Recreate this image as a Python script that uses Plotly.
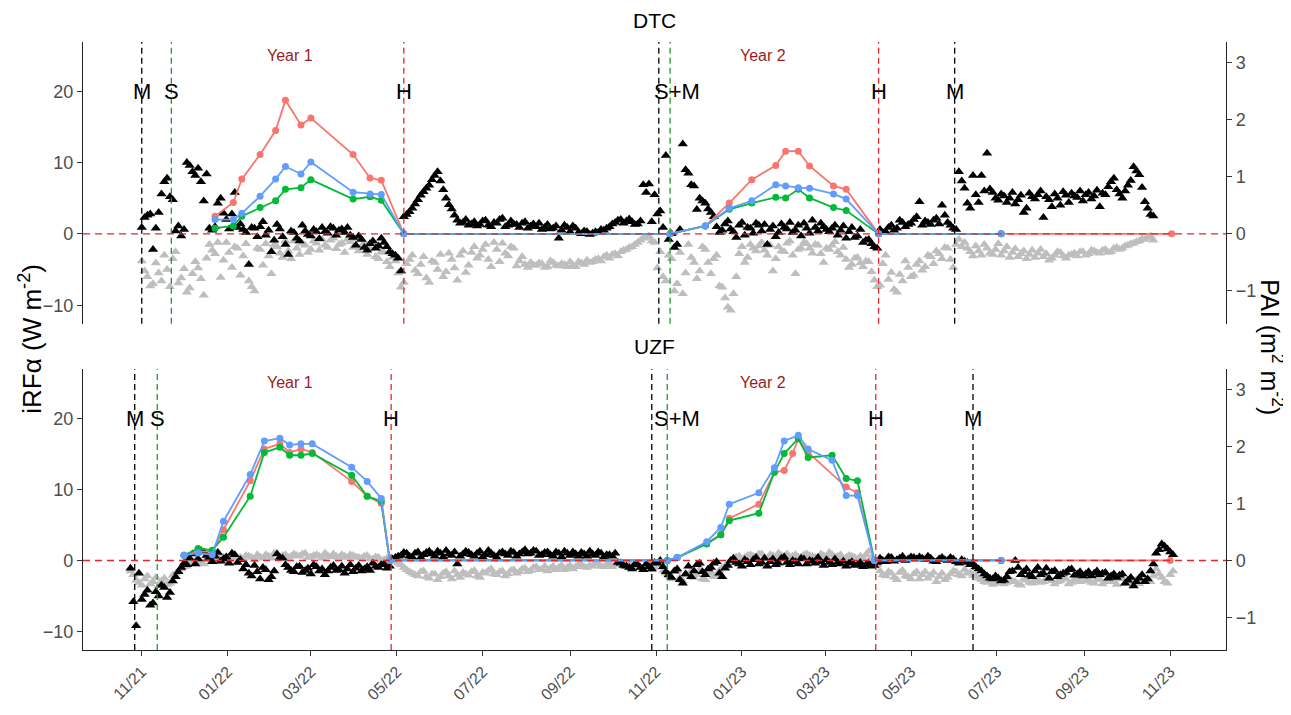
import pandas as pd
import plotly.graph_objects as go

STEP = pd.Timedelta(days=4)

# ---------------- DTC daily iRF (W m-2): two interleaved samplings (every 4 days) ----------------
dtc_black_start = "2021-11-01"
dtc_black = [
    0.9, 2.6, -2.2, 3.0, 7.3, 5.2, 0.4, -0.3, 10.0, 8.7,
    9.2, 4.6, 0.8, 1.0, 5.0, 2.0, 2.8, 0.9, 0.6, -4.3,
    0.8, 1.0, -0.2, -2.5, 1.3, -0.4, -2.9, 0.2, -1.0, 0.4,
    -0.3, 0.3, 0.9, 0.1, 0.8, 0.5, 0.2, -0.2, -1.6, -0.8,
    -2.3, -1.0, -1.7, -1.2, -2.5, -3.0, -5.2, 2.7, 3.6, 4.8,
    5.9, 6.8, 8.2, 7.4, 5.0, 3.5, 1.9, 1.6, 1.2, 1.7,
    1.3, 1.9, 1.0, 1.5, 2.2, 1.2, 1.4, 0.9, 1.7, 1.1,
    1.0, 0.6, 1.3, 0.8, -0.6, 1.2, 0.3, 0.8, 0.0, 0.3,
    0.1, 0.2, 0.5, 1.0, 1.6, 2.0, 1.8, 1.7, 1.4, 6.9,
    7.0, 5.5, 3.2, 11.0, 0.0, -1.5, 12.6, 8.5, 6.7, 5.0,
    4.3, 3.0, 1.0, 0.5, 1.8, 0.3, 1.2, -0.2, 0.8, 1.5,
    0.4, -1.5, 1.1, 0.2, 0.9, 1.6, 0.5, -0.3, 0.8, 1.9,
    0.4, 1.0, 0.3, 1.2, 0.5, -0.6, 0.9, -0.3, -1.2, -0.8,
    -1.8, 0.6, 0.3, 1.2, 0.8, 1.6, 1.3, 2.0, 4.5, 1.8,
    1.3, 2.2, 4.0, 1.6, 0.8, 8.7, 6.4, 3.6, 5.5, 8.2,
    11.3, 5.8, 4.7, 5.3, 5.0, 4.2, 5.4, 3.6, 5.2, 5.5,
    2.3, 4.8, 5.6, 4.0, 5.4, 5.7, 5.1, 4.6, 5.8, 5.3,
    3.8, 5.5, 7.3, 6.2, 5.0, 6.8, 9.4, 8.3, 4.5, 2.7,
]
dtc_black_b_start = "2021-11-03"
dtc_black_b = [
    2.3, 2.8, 0.8, 5.6, 7.8, 4.8, 1.1, 0.6, 9.6, 8.2,
    7.3, 8.4, 0.5, 4.3, 2.9, 0.7, 5.8, 1.4, 0.2, 0.9,
    -0.4, 1.7, 0.5, -0.9, 0.7, -1.5, 0.4, -0.6, 1.2, -0.1,
    0.6, -0.7, 0.3, 1.0, -0.2, 0.7, 0.9, -0.5, -0.3, -1.9,
    -1.4, -2.0, -0.6, -1.8, -2.8, -3.4, 2.4, 3.1, 4.2, 5.4,
    6.4, 7.6, 8.7, 6.2, 4.1, 2.6, 1.5, 2.0, 1.4, 1.1,
    1.8, 1.2, 1.6, 2.0, 1.0, 1.8, 1.3, 1.5, 0.8, 1.4,
    1.5, 0.9, 0.7, 1.1, 0.5, 0.9, 1.1, 0.2, 0.4, -0.1,
    0.3, 0.6, 0.8, 1.4, 1.9, 1.5, 2.1, 1.3, 1.8, 5.8,
    1.7, 2.8, 0.9, -0.8, -1.9, 0.6, 9.0, 6.9, 3.4, 4.6,
    3.5, 2.4, 0.2, 1.4, 0.7, -0.5, 1.6, 0.9, 0.1, 1.2,
    1.3, 0.6, -0.4, 1.4, 0.7, 0.2, 1.2, 1.5, 0.1, 0.9,
    1.5, 0.6, 0.8, -0.2, 1.1, 0.3, -0.5, 0.6, -0.9, -1.4,
    -2.0, 0.2, 0.9, 0.5, 1.9, 1.0, 1.5, 2.4, 1.2, 1.6,
    1.9, 1.4, 2.6, 1.2, 0.6, 7.4, 4.3, 8.2, 4.4, 6.0,
    6.3, 5.0, 5.6, 4.4, 5.8, 4.8, 3.0, 5.7, 4.9, 6.0,
    5.2, 3.8, 5.0, 5.9, 4.4, 5.3, 6.0, 5.5, 4.9, 6.1,
    5.7, 6.6, 7.8, 5.6, 6.0, 7.5, 8.8, 6.5, 3.6, 2.5,
]
dtc_gray_start = "2021-11-01"
dtc_gray = [
    -3.8, -6.0, -7.0, -5.5, -3.0, -7.4, -2.5, -6.2, -8.2, -5.6,
    -4.8, -8.6, -1.5, -2.8, -6.1, -1.2, -4.7, -2.0, -3.1, -6.6,
    -8.0, -2.2, -1.4, -5.6, -1.8, -3.3, -2.4, -1.0, -2.9, -1.6,
    -2.2, -1.3, -0.8, -1.9, -0.6, -1.5, -2.6, -1.1, -0.7, -1.8,
    -2.9, -1.4, -3.5, -2.6, -4.6, -3.8, -7.5, -4.2, -3.0, -5.6,
    -3.2, -6.8, -4.0, -2.9, -5.3, -3.6, -6.5, -2.4, -4.4, -1.8,
    -3.0, -1.5, -4.6, -2.2, -1.3, -3.1, -2.0, -3.8, -4.3, -4.0,
    -4.4, -4.2, -4.6, -4.0, -4.5, -4.3, -3.9, -4.6, -4.1, -3.7,
    -3.9, -3.5, -3.2, -3.4, -2.8, -2.5, -2.2, -1.8, -1.2, -0.6,
    -0.3, -1.2, -2.5, -6.6, -3.5, -7.0, -8.4, -1.5, -4.0, -5.2,
    -2.2, -5.6, -3.0, -7.5, -10.3, -8.4, -2.8, -4.0, -1.5, -2.4,
    -1.2, -3.0, -5.2, -1.8, -2.5, -1.0, -5.6, -2.0, -1.4, -2.7,
    -1.6, -4.0, -2.2, -1.1, -3.0, -3.6, -4.3, -3.3, -4.6, -3.9,
    -6.5, -7.2, -3.0, -5.4, -8.2, -6.6, -4.7, -5.8, -3.8, -4.6,
    -3.2, -2.4, -3.5, -2.0, -4.7, -0.8, -1.2, -2.5, -1.7, -3.0,
    -2.0, -2.9, -1.4, -2.4, -3.3, -2.1, -2.8, -3.5, -2.3, -2.7,
    -3.2, -3.7, -3.0, -2.6, -3.4, -2.9, -3.1, -2.5, -2.8, -2.4,
    -2.7, -2.2, -2.5, -1.9, -2.0, -1.6, -1.3, -1.0, -0.8, -0.3,
]
dtc_gray_b_start = "2021-11-03"
dtc_gray_b = [
    -5.2, -7.3, -4.1, -6.6, -5.0, -3.5, -6.9, -4.9, -7.6, -3.9,
    -6.3, -3.4, -2.3, -1.2, -3.7, -2.6, -1.8, -5.8, -1.4, -7.4,
    -2.0, -4.4, -3.1, -1.6, -2.7, -1.0, -3.5, -2.0, -1.3, -2.6,
    -1.0, -2.3, -1.6, -0.9, -2.1, -1.3, -0.8, -1.9, -2.4, -1.2,
    -2.0, -3.2, -2.5, -3.9, -3.3, -5.5, -6.8, -3.6, -5.1, -4.3,
    -6.2, -3.8, -5.0, -6.0, -2.7, -4.8, -3.0, -5.4, -2.6, -3.4,
    -2.2, -3.6, -1.2, -3.9, -2.7, -1.8, -4.5, -3.2, -4.7, -4.4,
    -4.1, -4.7, -3.8, -4.4, -4.2, -4.6, -4.4, -3.9, -4.3, -4.0,
    -3.6, -3.8, -3.0, -2.9, -3.1, -2.3, -1.9, -1.5, -0.9, -0.5,
    -1.0, -4.8, -6.0, -3.0, -8.0, -2.6, -5.5, -3.3, -6.3, -1.8,
    -4.0, -3.5, -7.3, -9.0, -10.7, -6.0, -1.8, -3.3, -2.0, -1.7,
    -2.3, -1.6, -3.5, -2.4, -1.3, -3.0, -2.2, -1.2, -2.0, -1.5,
    -2.8, -2.0, -1.6, -2.5, -1.9, -4.7, -3.4, -4.1, -3.8, -5.3,
    -7.4, -4.2, -6.4, -7.8, -5.7, -3.8, -6.0, -4.3, -5.1, -3.0,
    -4.2, -2.8, -1.9, -3.6, -1.5, -1.8, -2.0, -3.1, -2.4, -1.5,
    -2.7, -2.2, -3.0, -1.8, -2.6, -3.2, -2.4, -2.9, -3.3, -2.2,
    -2.8, -3.4, -2.5, -3.1, -3.0, -2.7, -2.5, -3.0, -2.3, -2.6,
    -2.3, -2.6, -2.0, -2.2, -1.7, -1.4, -1.1, -0.7, -0.5, -0.9,
]

# ---------------- UZF daily iRF (W m-2): two interleaved samplings (every 4 days) ----------------
uzf_black_start = "2021-10-24"
uzf_black = [
    -1.1, -9.2, -5.5, -4.2, -6.0, -5.0, -3.8, -4.5, -2.3, -1.0,
    -0.6, 0.9, 0.2, 1.2, 0.4, 0.6, -0.1, 0.5, 1.0, -0.3,
    -1.2, -1.8, -0.7, -2.6, -1.3, -2.3, 0.9, 0.3, -1.0, -1.6,
    -0.8, -1.4, -1.9, -0.9, -1.2, -1.5, -0.7, -1.3, -1.8, -0.6,
    -1.1, -1.5, -0.9, -0.4, -1.0, -0.5, -0.8, 0.4, 0.7, 1.0,
    0.5, 1.2, 0.8, 1.3, 0.6, 1.0, 1.4, 0.7, -0.5, 0.9,
    1.1, 0.6, 1.3, 0.8, 1.0, 0.4, 1.2, 0.7, 1.1, 0.9,
    1.5, 1.0, 1.3, 0.8, 1.2, 0.6, 1.0, 1.3, 0.7, 0.9,
    1.1, 0.6, 0.9, 1.2, 0.5, 0.8, 1.0, -0.4, -0.8, -1.2,
    -0.6, -1.3, -0.9, -0.3, 0.0, -1.6, -2.4, -1.2, -3.2, -0.8,
    -1.5, -0.4, -2.0, -1.0, -0.2, -2.3, -0.7, 0.3, -0.5, 0.1,
    -0.6, 0.4, -0.3, -0.8, 0.2, -0.4, 0.5, -0.6, -0.2, 0.3,
    -0.5, -0.1, 0.4, -0.7, -0.3, 0.2, -0.5, -0.8, -0.2, -0.6,
    -0.9, -0.4, -0.7, 0.3, -0.2, 0.4, 0.1, 0.6, 0.2, 0.4,
    0.5, 0.1, 0.3, -0.2, 0.4, 0.0, 0.2, -0.4, -0.1, -0.6,
    -0.9, -1.5, -2.2, -2.6, -2.5, -2.8, -1.6, 0.0, -2.0, -1.2,
    -2.3, -1.0, -1.8, -2.5, -1.4, -2.0, -1.7, -1.2, -1.9, -2.2,
    -1.6, -1.8, -2.0, -1.7, -2.2, -2.4, -1.9, -2.8, -3.6, -2.5,
    -3.0, -1.5, 1.0, 2.3, 1.6, 0.8,
]
uzf_black_b_start = "2021-10-26"
uzf_black_b = [
    -5.8, -1.8, -4.8, -6.3, -4.4, -3.5, -5.2, -2.9, -1.6, -0.4,
    0.3, -0.5, 1.4, 0.7, -0.2, 1.1, 0.2, -0.4, 0.8, 0.1,
    -0.6, -2.2, -1.6, -1.0, -2.7, -1.5, 0.4, -0.6, -1.4, -0.9,
    -1.7, -1.1, -0.6, -1.5, -2.0, -1.0, -1.4, -0.8, -1.2, -1.6,
    -0.7, -1.2, -1.4, -0.8, -0.6, -1.1, 0.2, 0.6, 1.1, 0.6,
    1.0, 0.4, 1.1, 0.9, 1.3, 0.5, 0.9, 1.2, 0.6, 1.3,
    0.8, 1.0, 0.5, 1.4, 0.7, 1.0, 0.9, 1.3, 0.6, 1.2,
    0.9, 1.4, 0.7, 1.1, 0.8, 1.2, 0.5, 1.0, 1.2, 0.6,
    0.9, 1.3, 0.7, 1.0, 0.8, 0.6, -0.3, -0.7, -1.0, -0.5,
    -1.0, -0.5, -1.2, -0.4, -0.9, -2.0, -1.5, -2.7, -1.9, -2.3,
    -0.6, -1.6, -1.2, -0.4, -1.8, -1.1, 0.0, -0.3, -0.8, -0.2,
    0.1, -0.5, 0.3, -0.2, -0.6, 0.3, -0.3, 0.0, -0.5, 0.2,
    0.0, -0.4, -0.2, 0.1, -0.6, -0.3, -0.1, -0.4, -0.7, -0.3,
    -0.6, -0.8, -0.3, 0.0, 0.5, -0.1, 0.3, 0.0, 0.5, 0.2,
    0.3, 0.6, -0.1, 0.2, 0.1, 0.4, -0.2, 0.1, -0.3, -0.5,
    -1.2, -1.9, -2.5, -2.2, -2.9, -2.3, -1.5, -1.0, -1.6, -2.1,
    -1.5, -2.0, -1.1, -1.6, -2.3, -1.8, -1.3, -2.1, -1.6, -1.9,
    -2.2, -1.5, -1.8, -2.5, -1.9, -2.1, -3.2, -2.4, -3.0, -2.0,
    -2.6, -0.5, 1.5, 2.0, 1.2,
]
uzf_gray_start = "2021-10-24"
uzf_gray = [
    -1.5, -2.8, -3.5, -2.2, -3.0, -3.6, -2.5, -3.2, -1.8, -1.2,
    -0.8, -0.3, 0.2, -0.5, 0.1, -0.2, 0.4, 0.0, 0.5, 0.3,
    0.2, 0.6, 0.1, 0.5, 0.8, 0.3, 1.0, 0.7, 0.4, 0.9,
    0.6, 1.0, 0.5, 0.8, 0.3, 0.7, 0.9, 0.4, 0.6, 0.8,
    0.5, 0.3, 0.7, 0.2, 0.4, 0.1, 0.3, -0.2, -0.6, -1.3,
    -1.8, -2.2, -1.5, -2.5, -1.9, -2.3, -1.6, -2.6, -2.0, -1.7,
    -2.1, -1.4, -2.4, -1.8, -1.2, -2.0, -1.5, -1.9, -1.3, -1.6,
    -1.1, -1.4, -0.9, -1.2, -1.5, -0.8, -1.0, -1.3, -0.7, -0.9,
    -0.6, -1.0, -0.8, -0.5, -0.9, -0.4, -0.6, -0.3, -0.7, -1.0,
    -0.8, -1.2, -0.5, -1.0, -0.2, -1.8, -2.6, -1.4, -2.9, -1.9,
    -2.4, -1.3, -2.7, -1.6, -2.1, -1.0, -0.4, 0.3, 0.6, 0.4,
    0.8, 0.5, 0.9, 0.3, 0.7, 1.0, 0.6, 0.4, 0.8, 0.5,
    0.9, 0.6, 0.3, 0.7, 1.1, 0.5, 0.8, 0.4, 0.6, 0.2,
    0.3, 1.3, 0.0, -1.5, -2.2, -1.8, -2.7, -1.4, -2.3, -1.9,
    -2.6, -1.6, -2.1, -3.0, -1.8, -2.4, -1.5, -2.0, -1.3, -1.7,
    -2.2, -2.7, -3.1, -3.4, -2.9, -3.3, -2.6, -3.0, -3.5, -2.8,
    -3.2, -2.7, -3.0, -2.5, -3.3, -2.9, -2.6, -3.1, -2.8, -2.4,
    -2.9, -3.2, -2.6, -3.0, -2.7, -3.4, -2.5, -3.1, -2.8, -3.3,
    -2.6, -3.0, -1.2, -2.4, -3.2, -1.5,
]
uzf_gray_b_start = "2021-10-26"
uzf_gray_b = [
    -2.0, -3.1, -2.6, -3.3, -2.4, -2.9, -3.4, -2.1, -1.5, -0.9,
    -0.5, 0.0, -0.3, 0.3, -0.1, 0.2, 0.5, 0.1, 0.6, 0.4,
    0.7, 0.4, 0.8, 0.3, 0.6, 1.0, 0.5, 0.8, 0.6, 0.7,
    0.9, 0.4, 0.7, 0.6, 1.0, 0.5, 0.6, 0.8, 0.4, 0.7,
    0.4, 0.6, 0.2, 0.5, 0.0, 0.3, -0.1, -0.4, -1.0, -1.6,
    -2.0, -1.6, -2.3, -1.9, -2.7, -1.8, -2.2, -1.5, -2.4, -1.9,
    -1.6, -2.2, -1.7, -1.4, -1.9, -1.6, -2.2, -1.4, -1.8, -1.2,
    -1.6, -1.0, -1.3, -0.8, -1.1, -1.3, -0.7, -1.0, -1.2, -0.6,
    -0.9, -0.7, -0.4, -0.8, -0.6, -0.9, -0.5, -0.8, -0.4, -0.8,
    -1.0, -0.7, -1.3, -0.6, -1.4, -2.2, -1.6, -2.4, -2.1, -1.5,
    -2.0, -2.6, -1.8, -2.3, -1.4, -0.8, -0.1, 0.5, 0.2, 0.7,
    0.6, 0.9, 0.4, 0.8, 0.5, 0.7, 0.9, 0.6, 0.5, 0.8,
    0.7, 0.4, 0.9, 0.5, 0.8, 0.6, 0.3, 0.7, 0.4, 0.6,
    0.8, 0.5, -0.6, -2.0, -1.6, -2.4, -1.7, -2.2, -2.6, -1.6,
    -2.0, -2.5, -1.7, -2.3, -2.7, -1.9, -1.6, -2.2, -1.8, -2.1,
    -2.5, -3.0, -2.8, -3.2, -2.7, -3.1, -2.9, -3.4, -2.6, -3.1,
    -2.9, -3.1, -2.6, -2.9, -3.0, -2.6, -3.3, -2.7, -3.0, -2.9,
    -3.1, -2.7, -3.3, -2.8, -3.0, -2.6, -3.2, -2.9, -2.7, -3.0,
    -2.8, -2.2, -1.9, -3.0, -2.0,
]

# ---------------- PAI (m2 m-2) ----------------
dtc_pai_dates = [
    "2021-12-23", "2022-01-05", "2022-01-11", "2022-01-24", "2022-02-04", "2022-02-11",
    "2022-02-22", "2022-03-01", "2022-03-31", "2022-04-12", "2022-04-20", "2022-05-06",
    "2022-11-11", "2022-12-06", "2022-12-23", "2023-01-08", "2023-01-25", "2023-02-01",
    "2023-02-10", "2023-02-18", "2023-03-07", "2023-03-16", "2023-04-08", "2023-07-04",
    "2023-11-02",
]
dtc_pai_red = [0.31, 0.55, 0.96, 1.39, 1.81, 2.34, 1.91, 2.03, 1.39, 0.98, 0.94, 0,
               0, 0.14, 0.54, 0.95, 1.20, 1.45, 1.45, 1.19, 0.84, 0.78, 0, 0, 0]
dtc_pai_green = [0.10, 0.14, 0.31, 0.46, 0.58, 0.78, 0.81, 0.95, 0.61, 0.65, 0.59, 0,
                 0, 0.14, 0.43, 0.54, 0.64, 0.63, 0.78, 0.63, 0.46, 0.41, 0, 0, None]
dtc_pai_blue = [0.25, 0.25, 0.36, 0.66, 0.96, 1.18, 1.05, 1.26, 0.73, 0.70, 0.69, 0,
                0, 0.14, 0.45, 0.58, 0.86, 0.84, 0.81, 0.80, 0.70, 0.61, 0, 0, None]

uzf_pai_dates = [
    "2021-12-01", "2021-12-11", "2021-12-21", "2021-12-29", "2022-01-17", "2022-01-27",
    "2022-02-07", "2022-02-14", "2022-02-22", "2022-03-02", "2022-03-30", "2022-04-10",
    "2022-04-20", "2022-04-26",
    "2022-11-09", "2022-11-16", "2022-12-07", "2022-12-17", "2022-12-23", "2023-01-13",
    "2023-01-24", "2023-01-31", "2023-02-06", "2023-02-10", "2023-02-17", "2023-03-06",
    "2023-03-16", "2023-03-24", "2023-04-05", "2023-07-04", "2023-11-01",
]
uzf_pai_red = [0.09, 0.16, 0.15, 0.54, 1.40, 1.96, 2.05, 1.90, 1.96, 1.90, 1.39, 1.13, 1.00, 0,
               0, 0.05, 0.30, 0.45, 0.74, 0.99, 1.55, 1.58, 1.88, 2.14, 1.90, None, 1.29, 1.19, 0, 0, 0]
uzf_pai_green = [0.09, 0.21, 0.18, 0.41, 1.13, 1.90, 1.99, 1.85, 1.85, 1.88, 1.50, 1.13, 1.04, 0,
                 0, 0.05, 0.29, 0.45, 0.70, 0.83, 1.55, 1.88, None, 2.14, 1.81, 1.85, 1.44, 1.40, 0, 0, None]
uzf_pai_blue = [0.09, 0.13, 0.10, 0.69, 1.51, 2.10, 2.15, 2.03, 2.05, 2.05, 1.64, 1.39, 1.09, 0,
                0, 0.05, 0.33, 0.58, 0.99, 1.19, 1.63, 2.10, None, 2.20, 1.96, 1.76, 1.14, 1.14, 0, 0, None]

# ---------------- events ----------------
dtc_events = [("2021-11-01", "M"), ("2021-11-22", "S"), ("2022-05-06", "H"),
              ("2022-11-03", "M"), ("2022-11-11", "S"), ("2023-04-08", "H"), ("2023-06-01", "M")]
uzf_events = [("2021-10-27", "M"), ("2021-11-12", "S"), ("2022-04-27", "H"),
              ("2022-10-29", "M"), ("2022-11-09", "S"), ("2023-04-06", "H"), ("2023-06-14", "M")]
dtc_labels = [("2021-11-01", "M"), ("2021-11-22", "S"), ("2022-05-06", "H"),
              ("2022-11-16", "S+M"), ("2023-04-08", "H"), ("2023-06-01", "M")]
uzf_labels = [("2021-10-27", "M"), ("2021-11-12", "S"), ("2022-04-27", "H"),
              ("2022-11-16", "S+M"), ("2023-04-06", "H"), ("2023-06-14", "M")]
year_labels = [("2022-02-14", "Year 1"), ("2023-01-16", "Year 2")]

tick_dates = ["2021-11-01", "2022-01-01", "2022-03-01", "2022-05-01", "2022-07-01",
              "2022-09-01", "2022-11-01", "2023-01-01", "2023-03-01", "2023-05-01",
              "2023-07-01", "2023-09-01", "2023-11-01"]
tick_text = ["11/21", "01/22", "03/22", "05/22", "07/22", "09/22", "11/22",
             "01/23", "03/23", "05/23", "07/23", "09/23", "11/23"]

Y_LEFT = [-12.6, 26.9]
PAI_SCALE = 8.0
Y_RIGHT = [Y_LEFT[0] / PAI_SCALE, Y_LEFT[1] / PAI_SCALE]

EVENT_COLORS = {"M": "black", "S": "#1f9a2a", "H": "#e4262c"}
RED, GREEN, BLUE = "#F8766D", "#00BA38", "#619CFF"
FONT = "Liberation Sans, Arial, sans-serif"
TICK_COLOR = "#4d4d4d"
MSIZE = 9


def dates_from(start, values):
    s = pd.Timestamp(start)
    return [s + i * STEP for i in range(len(values))]


fig = go.Figure()


def tri(start, vals, color, xa, ya):
    fig.add_trace(go.Scatter(x=dates_from(start, vals), y=vals, mode="markers",
                             marker=dict(symbol="triangle-up", size=MSIZE, color=color,
                                         line=dict(width=0)),
                             xaxis=xa, yaxis=ya, showlegend=False, hoverinfo="skip"))


def add_panel(xa, ya, ya2, grays, blacks, pdates, pr, pg, pb):
    for start, vals in grays:
        tri(start, vals, "#BEBEBE", xa, ya)
    for start, vals in blacks:
        tri(start, vals, "black", xa, ya)
    for vals, col in [(pr, RED), (pg, GREEN), (pb, BLUE)]:
        fig.add_trace(go.Scatter(x=pdates, y=vals, mode="lines+markers", connectgaps=True,
                                 line=dict(color=col, width=1.8),
                                 marker=dict(color=col, size=7),
                                 xaxis=xa, yaxis=ya2, showlegend=False, hoverinfo="skip"))


add_panel("x2", "y", "y2",
          [(dtc_gray_start, dtc_gray), (dtc_gray_b_start, dtc_gray_b)],
          [(dtc_black_start, dtc_black), (dtc_black_b_start, dtc_black_b)],
          dtc_pai_dates, dtc_pai_red, dtc_pai_green, dtc_pai_blue)
add_panel("x", "y3", "y4",
          [(uzf_gray_start, uzf_gray), (uzf_gray_b_start, uzf_gray_b)],
          [(uzf_black_start, uzf_black), (uzf_black_b_start, uzf_black_b)],
          uzf_pai_dates, uzf_pai_red, uzf_pai_green, uzf_pai_blue)

shapes = []
annotations = []
for xref, yref, events, labels in [("x2", "y", dtc_events, dtc_labels),
                                   ("x", "y3", uzf_events, uzf_labels)]:
    for d, kind in events:
        shapes.append(dict(type="line", xref=xref, yref=f"{yref} domain", x0=d, x1=d, y0=0, y1=1,
                           line=dict(color=EVENT_COLORS[kind], width=1.3, dash="6px,4px"),
                           layer="above"))
    shapes.append(dict(type="line", xref=f"{xref} domain", yref=yref, x0=0, x1=1, y0=0, y1=0,
                       line=dict(color="#e4262c", width=1.4, dash="7px,5px"), layer="above"))
    for d, t in labels:
        annotations.append(dict(x=d, y=20, xref=xref, yref=yref, text=t, showarrow=False,
                                font=dict(family=FONT, size=22, color="black"),
                                xanchor="center", yanchor="middle"))
    for d, t in year_labels:
        annotations.append(dict(x=d, y=25, xref=xref, yref=yref, text=t, showarrow=False,
                                font=dict(family=FONT, size=16, color="#9b1c1f"),
                                xanchor="center", yanchor="middle"))

annotations += [
    dict(x=0.5, y=1.0358, xref="paper", yref="paper", text="DTC", showarrow=False,
         font=dict(family=FONT, size=21, color="black"), xanchor="center", yanchor="middle"),
    dict(x=0.5, y=0.499, xref="paper", yref="paper", text="UZF", showarrow=False,
         font=dict(family=FONT, size=21, color="black"), xanchor="center", yanchor="middle"),
    dict(x=-0.0455, y=0.512, xref="paper", yref="paper", text="iRFα (W m<sup>-2</sup>)",
         showarrow=False, textangle=-90, font=dict(family=FONT, size=26, color="black"),
         xanchor="center", yanchor="middle"),
    dict(x=1.0395, y=0.4976, xref="paper", yref="paper", text="PAI (m<sup>2</sup> m<sup>-2</sup>)",
         showarrow=False, textangle=90, font=dict(family=FONT, size=25, color="black"),
         xanchor="center", yanchor="middle"),
]

X_RANGE = ["2021-09-20 07:00", "2023-12-10 14:00"]
left_axis = dict(range=Y_LEFT, tickvals=[-10, 0, 10, 20], showline=True, linecolor="#222",
                 linewidth=1.2, ticks="outside", ticklen=5, tickcolor="#333",
                 tickfont=dict(family=FONT, size=18, color=TICK_COLOR),
                 showgrid=False, zeroline=False)
right_axis = dict(range=Y_RIGHT, tickvals=[-1, 0, 1, 2, 3], showline=True, linecolor="#222",
                  linewidth=1.2, ticks="outside", ticklen=5, tickcolor="#333", side="right",
                  tickfont=dict(family=FONT, size=18, color=TICK_COLOR),
                  showgrid=False, zeroline=False)

# page body has an 8px default margin, so the figure is made 8px smaller in each direction
fig.update_layout(
    width=1283, height=707,
    margin=dict(l=75, r=65, t=34, b=58),
    paper_bgcolor="white", plot_bgcolor="white",
    showlegend=False,
    xaxis=dict(domain=[0, 1], anchor="y3", range=X_RANGE, tickvals=tick_dates, ticktext=tick_text,
               tickangle=-45, showline=True, linecolor="#222", linewidth=1.2, ticks="outside",
               ticklen=5, tickcolor="#333", tickfont=dict(family=FONT, size=16, color=TICK_COLOR),
               showgrid=False, zeroline=False),
    xaxis2=dict(domain=[0, 1], anchor="y", matches="x", range=X_RANGE, showticklabels=False,
                showline=False, ticks="", showgrid=False, zeroline=False),
    yaxis=dict(domain=[0.5366, 1.0], anchor="x2", **left_axis),
    yaxis2=dict(overlaying="y", anchor="x2", **right_axis),
    yaxis3=dict(domain=[0.0, 0.4618], anchor="x", **left_axis),
    yaxis4=dict(overlaying="y3", anchor="x", **right_axis),
    shapes=shapes,
    annotations=annotations,
)

fig.write_html("out.html")
